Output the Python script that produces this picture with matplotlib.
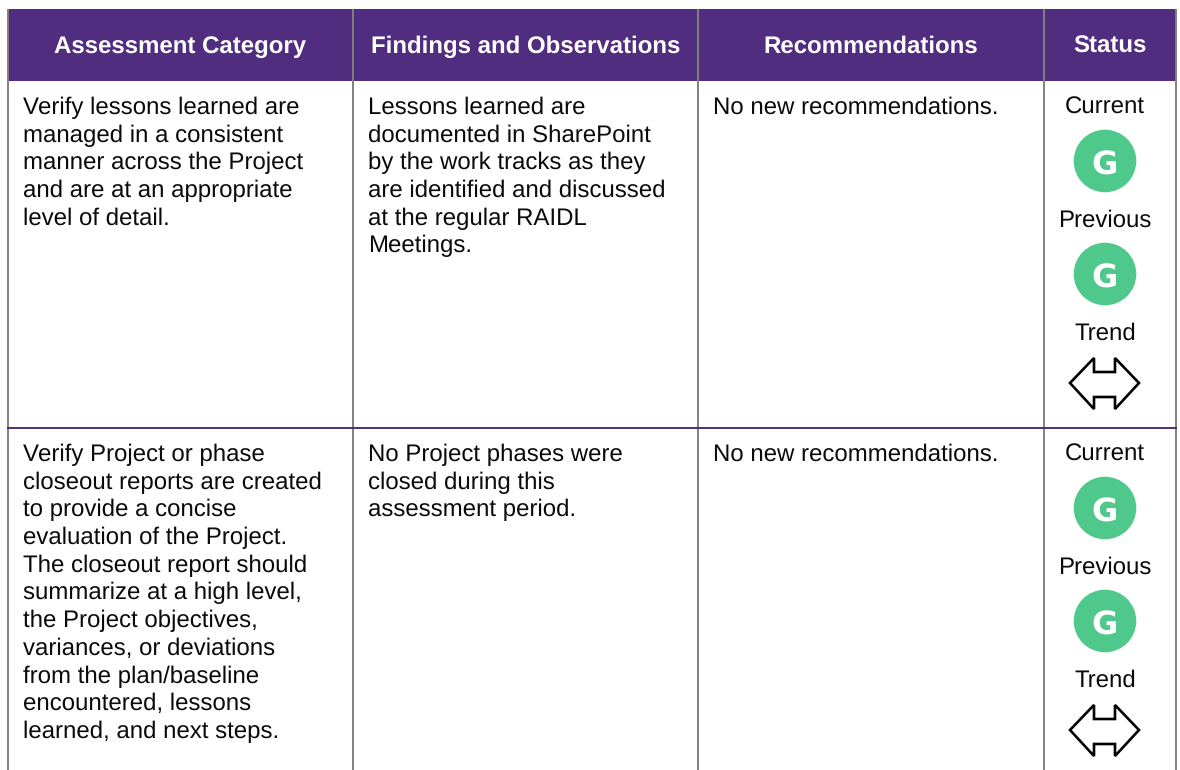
import matplotlib
matplotlib.use('Agg')
import matplotlib.pyplot as plt
from matplotlib.patches import Rectangle, Circle, Polygon

plt.rcParams['font.family'] = ['Liberation Sans', 'DejaVu Sans']
plt.rcParams['text.hinting'] = 'none'
plt.rcParams['text.hinting_factor'] = 1

W, H = 1180, 770
PURPLE = '#502d7f'
GREEN = '#4fc98b'
INK = '#0a0a0a'
FS = 17.3

headers = ['Assessment Category', 'Findings and Observations', 'Recommendations', 'Status']
col_edges = [8, 353, 698, 1044, 1175.5]

category_1 = ['Verify lessons learned are', 'managed in a consistent',
              'manner across the Project', 'and are at an appropriate',
              'level of detail.']
findings_1 = ['Lessons learned are', 'documented in SharePoint',
              'by the work tracks as they', 'are identified and discussed',
              'at the regular RAIDL', 'Meetings.']
category_2 = ['Verify Project or phase', 'closeout reports are created',
              'to provide a concise', 'evaluation of the Project.',
              'The closeout report should', 'summarize at a high level,',
              'the Project objectives,', 'variances, or deviations',
              'from the plan/baseline', 'encountered, lessons',
              'learned, and next steps.']
findings_2 = ['No Project phases were', 'closed during this',
              'assessment period.']
recommendation = 'No new recommendations.'
status_current = 'G'
status_previous = 'G'

fig = plt.figure(figsize=(W / 100, H / 100), dpi=100)
ax = fig.add_axes([0, 0, 1, 1])
ax.set_xlim(0, W)
ax.set_ylim(H, 0)
ax.axis('off')


def cell_text(x, y, lines):
    for i, line in enumerate(lines):
        ax.text(x, y + i * 27.7, line, fontsize=FS, color=INK, va='baseline', ha='left')


def arrow(cx, cy):
    pts = [(-35, 0), (-11, -25), (-11, -11), (10, -11), (10, -25), (34, 0),
           (10, 26), (10, 14), (-11, 14), (-11, 26)]
    ax.add_patch(Polygon([(cx + a, cy + b) for a, b in pts], closed=True,
                         fc='white', ec='black', lw=1.9, zorder=3))


def badge(cx, cy, letter):
    ax.add_patch(Circle((cx, cy), 31.3, fc=GREEN, ec='none', zorder=3))
    ax.text(cx, cy + 14, letter, fontsize=23, family='DejaVu Sans', fontweight='bold',
            color='white', ha='center', va='baseline', zorder=4)


def status(cx, top):
    ax.text(cx, top, 'Current', fontsize=FS, ha='center', va='baseline', color=INK)
    badge(cx, top + 47, status_current)
    ax.text(cx, top + 113, 'Previous', fontsize=FS, ha='center', va='baseline', color=INK)
    badge(cx, top + 160, status_previous)
    ax.text(cx, top + 226, 'Trend', fontsize=FS, ha='center', va='baseline', color=INK)
    arrow(cx, top + 269)


# header band
ax.add_patch(Rectangle((8, 9), 1167.5, 71.5, fc=PURPLE, ec='none'))
for i, h in enumerate(headers):
    xc = (col_edges[i] + col_edges[i + 1]) / 2
    ax.text(xc, 53, h, color='white', fontsize=FS, fontweight='bold', ha='center', va='baseline')

# grid lines
for x in col_edges:
    ax.plot([x, x], [9, 770], color='#808080', lw=1.4, zorder=2, solid_capstyle='butt')
ax.plot([8, 1175.5], [427.5, 427.5], color=PURPLE, lw=1.4, zorder=2)

cell_text(23, 114, category_1)
cell_text(368, 114, findings_1)
cell_text(713, 114, [recommendation])
status(1105, 114)

cell_text(23, 461, category_2)
cell_text(368, 461, findings_2)
cell_text(713, 461, [recommendation])
status(1105, 461)

fig.savefig('out.png', dpi=100)
